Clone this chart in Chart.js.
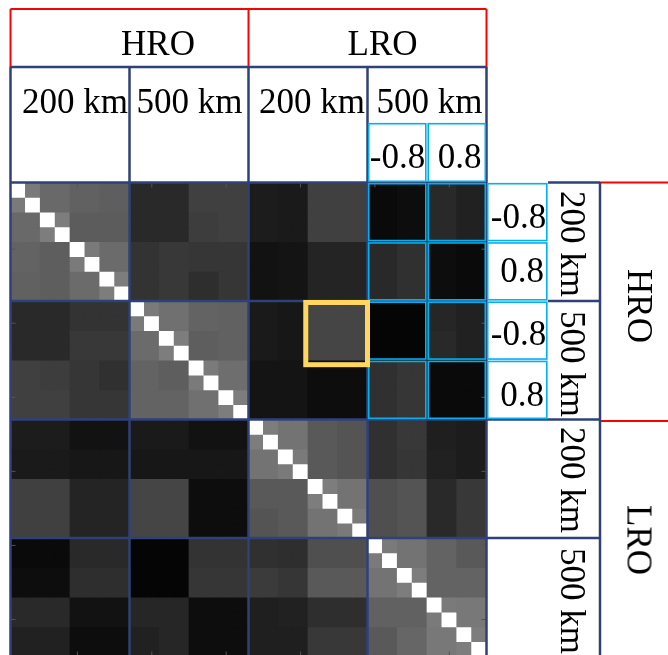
<!DOCTYPE html>
<html><head><meta charset="utf-8">
<script src="https://cdn.jsdelivr.net/npm/chart.js@4.4.1/dist/chart.umd.min.js"></script>
<style>
html,body{margin:0;padding:0;background:#fff;overflow:hidden;width:668px;height:655px;}
#wrap{position:absolute;left:0;top:0;width:668px;height:700px;}
canvas{position:absolute;left:0;top:0;}
.t{position:absolute;font-family:"Liberation Serif","Times New Roman",serif;font-size:35px;line-height:35px;color:#000;white-space:nowrap;}
.h{width:200px;text-align:center;}
.r{transform:translate(-50%,-50%) rotate(90deg);}
</style></head>
<body><div id="wrap"><canvas id="c" width="668" height="700"></canvas></div>
<script>
// ---------------- data ----------------
const cells = Array.from({length:32},(_,i)=>String(i+1));   // 32 matrix rows / columns
const groupLabels = ['HRO','LRO'];
const distanceLabels = ['200 km','500 km','200 km','500 km'];
const thresholdLabels = ['-0.8','0.8'];
const tickCells = [5,10,15,20,25,30];
// correlation matrix in 2x2 blocks (16 x 16), grey level 0 (black) .. 1 (white)
const blockValues = [
 [1.00,.41,.38,.37,.16,.16,.25,.25,.11,.10,.25,.25,.04,.05,.16,.13],
 [.41,1.00,.36,.36,.16,.16,.24,.25,.11,.10,.25,.25,.04,.05,.16,.13],
 [.39,.37,1.00,.42,.20,.22,.21,.21,.07,.08,.14,.14,.16,.19,.05,.04],
 [.38,.37,.42,1.00,.20,.22,.18,.21,.07,.08,.14,.14,.16,.19,.05,.04],
 [.16,.16,.20,.20,1.00,.44,.39,.38,.10,.09,.27,.27,.02,.02,.15,.13],
 [.16,.16,.22,.22,.42,1.00,.37,.38,.10,.09,.27,.27,.02,.02,.16,.13],
 [.25,.24,.21,.19,.39,.37,1.00,.43,.08,.08,.05,.05,.19,.21,.04,.04],
 [.25,.25,.21,.21,.39,.39,.44,1.00,.08,.08,.05,.05,.19,.21,.04,.04],
 [.11,.11,.07,.07,.10,.10,.07,.07,1.00,.45,.35,.33,.19,.22,.12,.11],
 [.10,.10,.09,.09,.09,.09,.09,.09,.45,1.00,.35,.33,.19,.21,.13,.11],
 [.25,.25,.14,.14,.27,.27,.05,.05,.35,.35,1.00,.45,.31,.33,.16,.22],
 [.25,.25,.14,.14,.27,.27,.05,.05,.33,.35,.45,1.00,.31,.33,.16,.22],
 [.04,.04,.16,.16,.02,.02,.20,.20,.19,.18,.31,.31,1.00,.45,.39,.35],
 [.05,.05,.18,.18,.02,.02,.21,.21,.23,.21,.35,.35,.45,1.00,.39,.39],
 [.16,.16,.07,.07,.15,.15,.05,.05,.12,.13,.18,.18,.38,.38,1.00,.47],
 [.13,.13,.05,.05,.13,.15,.05,.05,.12,.12,.22,.22,.35,.40,.47,1.00]
];
// off-diagonal value inside each diagonal 2x2 block
const pairValues = [.48,.49,.48,.49,.48,.49,.48,.49,.49,.48,.49,.48,.48,.49,.48,.49];
const diagValue = 1.0;

// ---------------- build ----------------
function cellValue(i,j){
  const I=i>>1, J=j>>1;
  if(I===J) return i===j ? diagValue : pairValues[I];
  return blockValues[I][J];
}
function grey(v){const g=Math.round(v*255);return `rgb(${g},${g},${g})`;}
const datasets = cells.map((_,i)=>({
  data: cells.map(()=>1),
  backgroundColor: cells.map((_,j)=>grey(cellValue(i,j)))
}));

const NAVY='#2F4178', RED='#FF0000', CYAN='#00B0F0', YEL='#FFD75E';
const overlay = {
  id:'overlay',
  afterDraw(chart){
    const ctx=chart.ctx, xs=chart.scales.x, ys=chart.scales.y, a=chart.chartArea;
    const X=b=>xs.getPixelForValue(b-0.5), Y=b=>ys.getPixelForValue(b);
    const bot=700;
    ctx.save();
    function L(x1,y1,x2,y2,c,w){ctx.beginPath();ctx.strokeStyle=c;ctx.lineWidth=w;ctx.moveTo(x1,y1);ctx.lineTo(x2,y2);ctx.stroke();}
    // ticks
    tickCells.forEach(t=>{
      const x=xs.getPixelForValue(t-1), y=Y(t-0.5);
      L(x,a.top,x,a.top+5,'#555',1); L(x,a.bottom,x,a.bottom-5,'#555',1);
      L(a.left,y,a.left+5,y,'#555',1); L(a.right,y,a.right-5,y,'#555',1);
    });
    // red
    const rt=9, nt=67, ct=122.5, rc=548, rn=600;
    L(X(0),rt,X(32),rt,RED,2);
    [0,16,32].forEach(b=>L(X(b),rt,X(b),nt,RED,2));
    L(rn,Y(0),668,Y(0),RED,2); L(rn,Y(16)+1.5,668,Y(16)+1.5,RED,2);
    // navy
    L(X(0),nt,X(32),nt,NAVY,2.5);
    L(X(0),Y(0),X(32),Y(0),NAVY,2.5);
    [0,8,16,24,32].forEach(b=>L(X(b),nt,X(b),bot,NAVY,2.5));
    [8,16,24].forEach(b=>L(X(0),Y(b),X(32),Y(b),NAVY,2.5));
    L(rc,Y(0),rn,Y(0),NAVY,2.5); L(rc,Y(8),rn,Y(8),NAVY,2.5);
    L(X(32),Y(16),rn,Y(16),NAVY,2.5); L(X(32),Y(24),rn,Y(24),NAVY,2.5);
    L(rn,Y(0),rn,bot,NAVY,2.5);
    // cyan boxes
    ctx.strokeStyle=CYAN; ctx.lineWidth=1.6;
    const box=(x1,y1,x2,y2)=>{const d=1.2;ctx.strokeRect(x1+d,y1+d,x2-x1-2*d,y2-y1-2*d);};
    box(X(24),ct,X(28),Y(0)); box(X(28),ct,X(32),Y(0));
    [0,4,8,12].forEach(r=>{
      box(X(24),Y(r),X(28),Y(r+4)); box(X(28),Y(r),X(32),Y(r+4));
      box(X(32),Y(r),rc,Y(r+4));
    });
    // yellow highlight
    ctx.strokeStyle=YEL; ctx.lineWidth=5;
    ctx.strokeRect(X(19.85),Y(8.1),X(24)-X(19.85),Y(12.3)-Y(8.1));
    ctx.restore();
  }
};

new Chart(document.getElementById('c').getContext('2d'),{
  type:'bar',
  data:{labels:cells,datasets},
  options:{
    responsive:false,animation:false,devicePixelRatio:1,
    layout:{padding:{left:10.5,top:182.5,right:181.5,bottom:43.5}},
    plugins:{legend:{display:false},tooltip:{enabled:false}},
    datasets:{bar:{barPercentage:1,categoryPercentage:1,borderWidth:0,inflateAmount:0.35}},
    scales:{
      x:{type:'category',stacked:true,display:false,offset:true},
      y:{type:'linear',stacked:true,display:false,min:0,max:32,reverse:true}
    }
  },
  plugins:[overlay]
});

// ---------------- labels (real text) ----------------
const wrap=document.getElementById('wrap');
const BL=29.3;
function hText(s,cx,base){const d=document.createElement('div');d.className='t h';d.textContent=s;d.style.left=(cx-100)+'px';d.style.top=(base-BL)+'px';wrap.appendChild(d);}
function rText(s,cx,cy){const d=document.createElement('div');d.className='t r';d.textContent=s;d.style.left=cx+'px';d.style.top=cy+'px';wrap.appendChild(d);}
[158,382.5].forEach((cx,k)=>hText(groupLabels[k],cx,55));
[75,189.5,312,429.5].forEach((cx,k)=>hText(distanceLabels[k],cx,113));
[397.5,459.5].forEach((cx,k)=>hText(thresholdLabels[k],cx,168));
[[518.5,228],[522,282],[518.5,345],[522,406]].forEach((p,k)=>hText(thresholdLabels[k%2],p[0],p[1]));
[244,364,480,601].forEach((cy,k)=>rText(distanceLabels[k],572,cy));
[306,540].forEach((cy,k)=>rText(groupLabels[k],639,cy));
</script>
</body></html>
